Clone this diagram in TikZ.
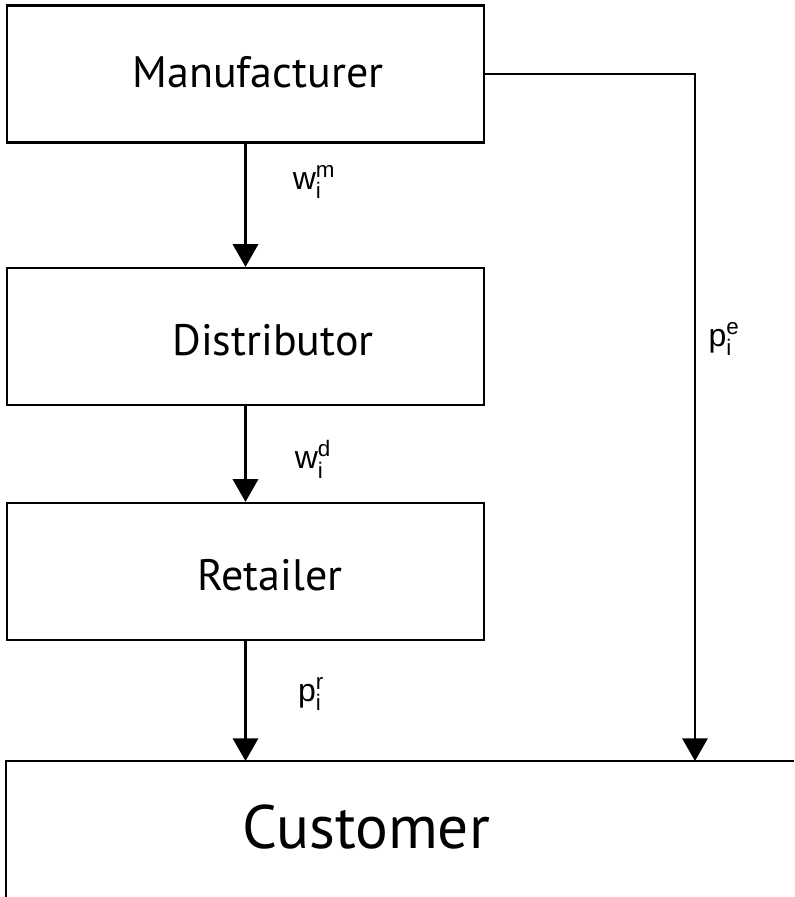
\documentclass[tikz,border=0pt]{standalone}
\usepackage{amsmath}
\usepackage{fontspec}
\setmainfont{PT Sans}
\newfontfamily\lblfont{Liberation Sans}
\usetikzlibrary{arrows.meta}

\tikzset{
  stage/.style={draw=black, line width=1.7pt, minimum width=477*0.75pt, minimum height=137*0.75pt, inner sep=0pt},
  flow/.style={line width=1.6pt, -{Triangle[length=17pt, width=19pt]}},
  bigtxt/.style={font=\fontsize{33}{36}\selectfont},
  pricetxt/.style={font=\lblfont\fontsize{24}{28}\selectfont}
}

\begin{document}
\begin{tikzpicture}[x=0.75pt, y=-0.75pt]
        \useasboundingbox (0,0) rectangle (794,897);

        % stages of the chain
        \node[stage] (man) at (245.5,74) {};
        \node[stage] (dis) at (245.5,336.5) {};
        \node[stage] (ret) at (245.5,571.5) {};
        \node[bigtxt] (mantxt) at (258,72) {Manufacturer};
        \node[bigtxt] (distxt) at (273,340) {Distributor};
        \node[bigtxt] (rettxt) at (270,575) {Retailer};

        % customer box, cut off by the page
        \coordinate (cusL) at (6,897);
        \coordinate (cusTL) at (6,761);
        \coordinate (cusTR) at (794,761);
        \coordinate (cusE) at (695,761);
        \draw[line width=1.7pt] (cusL) -- (cusTL) -- (cusTR);
        \node[font=\fontsize{46}{50}\selectfont] (custxt) at (366,827) {Customer};

        \draw[flow] (man) -- (dis);
        \draw[flow] (dis) -- (ret);
        \draw[flow] (ret.south) -- (ret.south |- cusTL);
        \draw[flow] (man.east) -| (cusE);

        % prices
        \node[pricetxt] (wm) at (314,182) {$\text{w}_{\text{i}}^{\text{m}}$};
        \node[pricetxt] (wd) at (313,459) {$\text{w}_{\text{i}}^{\text{d}}$};
        \node[pricetxt] (pr) at (311,694) {$\text{p}_{\text{i}}^{\text{r}}$};
        \node[pricetxt] (pe) at (724,339) {$\text{p}_{\text{i}}^{\text{e}}$};
\end{tikzpicture}
\end{document}
